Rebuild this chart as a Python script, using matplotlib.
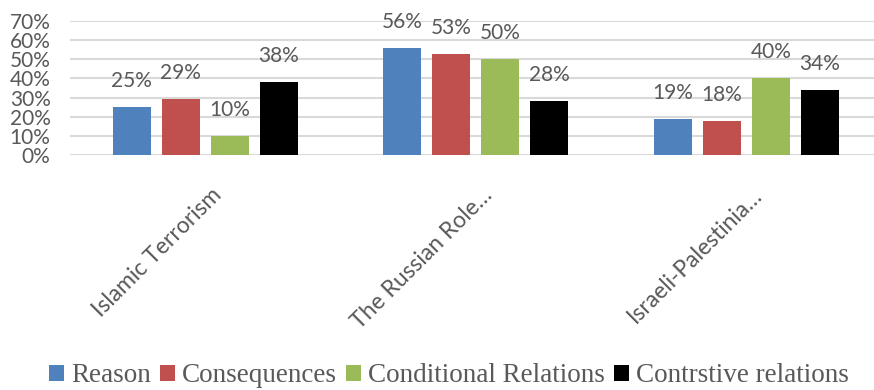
import matplotlib
matplotlib.use("Agg")
import matplotlib.pyplot as plt
from matplotlib.patches import Patch
import numpy as np

categories = ["Islamic Terrorism", "The Russian Role\u2026", "Israeli-Palestinia\u2026"]
series_names = ["Reason", "Consequences", "Conditional Relations", "Contrstive relations"]
reason = [25, 56, 19]
consequences = [29, 53, 18]
conditional = [10, 50, 40]
contrastive = [38, 28, 34]
series_values = [reason, consequences, conditional, contrastive]
colors = ["#4F81BD", "#C0504D", "#9BBB59", "#000000"]
yticks = [0, 10, 20, 30, 40, 50, 60, 70]
ytick_labels = [f"{v}%" for v in yticks]

text_color = "#595959"
W, H = 874, 390
fig = plt.figure(figsize=(W / 100, H / 100), dpi=100)
left = 70 / W
width = 811.5 / W
bottom = 1 - 155 / H
top = 1 - 21 / H
ax = fig.add_axes([left, bottom, width, top - bottom])

x = np.arange(len(categories))
step = 0.181
bw = 0.1405
for i, (name, vals, c) in enumerate(zip(series_names, series_values, colors)):
    xs = x + (i - 1.5) * step
    ax.bar(xs, vals, width=bw, color=c, zorder=3)
    for xi, v in zip(xs, vals):
        ax.annotate(f"{v}%", xy=(xi, v), xytext=(0, 16), textcoords="offset pixels",
                    ha="center", va="bottom", fontsize=15, family="Lato",
                    color=text_color, annotation_clip=False)

ax.set_xlim(-0.5, 2.5)
ax.set_ylim(0, 70)
ax.set_yticks(yticks)
ax.set_yticklabels(ytick_labels, fontsize=15, family="Lato", color=text_color)
ax.tick_params(axis="y", length=0, pad=14)
ax.set_xticks([])
ax.grid(axis="y", color="#D9D9D9", linewidth=1.5, zorder=0)
for s in ax.spines.values():
    s.set_visible(False)

for xi, lab in zip(x, categories):
    ax.annotate(lab, xy=(xi, 0), xycoords=("data", "axes fraction"),
                xytext=(13, -37), textcoords="offset pixels",
                rotation=45, ha="right", va="center", rotation_mode="anchor",
                fontsize=16.5, family="Lato", color=text_color, annotation_clip=False)

handles = [Patch(facecolor=c, edgecolor="none") for c in colors]
leg = fig.legend(handles, series_names, loc="center", bbox_to_anchor=(0.514, 1 - 376 / H),
                 ncol=4, frameon=False, prop={"family": "Liberation Serif", "size": 19.5},
                 handlelength=0.55, handleheight=0.55, handletextpad=0.25,
                 columnspacing=0.35, borderpad=0)
for t in leg.get_texts():
    t.set_color(text_color)

fig.savefig("out.png", dpi=100)
